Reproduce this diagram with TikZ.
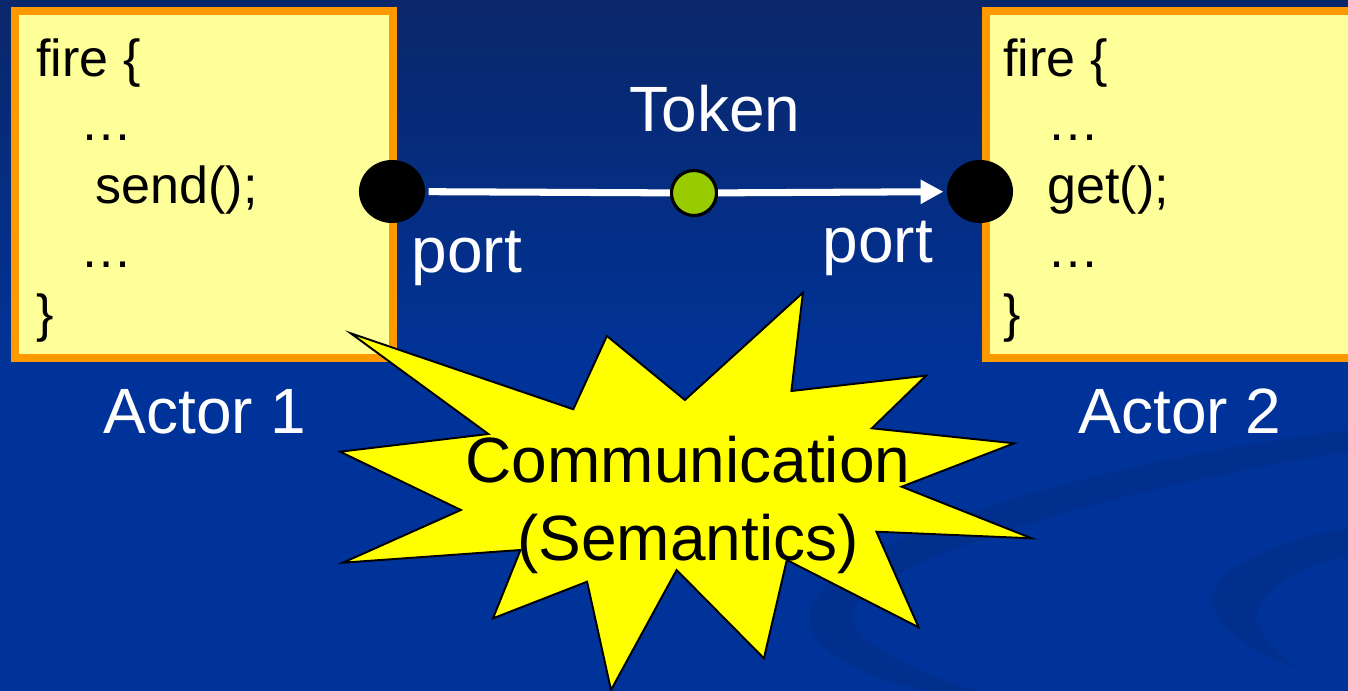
\documentclass[tikz,border=0pt]{standalone}
\usepackage{fontspec}
\setmainfont{Liberation Sans}
\usetikzlibrary{arrows.meta,shapes.geometric}
\definecolor{bgtop}{HTML}{0A276A}
\definecolor{bgblue}{HTML}{003399}
\definecolor{swoosh}{HTML}{002F8E}
\definecolor{boxfill}{HTML}{FFFF99}
\definecolor{boxline}{HTML}{FF9900}
\definecolor{tokengreen}{HTML}{99CC00}
\definecolor{burstyellow}{HTML}{FFFF00}
\tikzset{
  actorbox/.style={draw=boxline, fill=boxfill, line width=2.3pt, inner sep=0pt, minimum height=3.466cm},
  codeline/.style={anchor=base west, inner sep=0pt, font=\fontsize{14.8pt}{17pt}\selectfont},
  whitetext/.style={anchor=base west, text=white, inner sep=0pt, font=\fontsize{18.2pt}{22.2pt}\selectfont},
  portdot/.style={ellipse, fill=black, minimum width=0.66cm, minimum height=0.63cm, inner sep=0pt},
  tokendot/.style={circle, fill=tokengreen, draw=black, line width=0.9pt, minimum size=0.45cm, inner sep=0pt},
  starburst/.style={fill=burstyellow, draw=black, line width=0.55pt, line join=miter}
}

\begin{document}
\begin{tikzpicture}[x=0.01cm, y=-0.01cm, line width=2pt, >={Triangle[length=6.5pt,width=6.5pt]}]
  \useasboundingbox (0,0) rectangle (1348,691);
  \clip (0,0) rectangle (1348,691);
  \fill[bgblue] (0,0) rectangle (1348,691);
  \shade[top color=bgtop, bottom color=bgblue] (0,0) rectangle (1348,380);
  \fill[swoosh] (1348,430) .. controls (1100,460) and (830,540) .. (810,610)
    .. controls (800,645) and (860,680) .. (930,691) -- (975,691)
    .. controls (880,660) and (845,630) .. (853,610)
    .. controls (870,565) and (1100,490) .. (1348,452) -- cycle;
  \fill[swoosh] (1348,528) .. controls (1250,545) and (1205,580) .. (1213,605)
    .. controls (1222,635) and (1260,655) .. (1300,670)
    .. controls (1275,650) and (1250,628) .. (1258,610)
    .. controls (1268,585) and (1300,565) .. (1348,557) -- cycle;

  \node[actorbox, minimum width=3.775cm] (box1) at (203.8,184.5) {};
  \node[actorbox, minimum width=4cm, anchor=west] (box2) at (981.5,184.5) {};
  \foreach \x/\y/\t [count=\i] in {33/77/{fire \{}, 77/140.5/…, 92/204/{send();}, 77/267.5/…, 33/331/\}}
    \node[codeline] (sendline\i) at (\x,\y) {\t};
  \foreach \x/\y/\t [count=\i] in {1000/77/{fire \{}, 1044/140.5/…, 1044/204/{get();}, 1044/267.5/…, 1000/331/\}}
    \node[codeline] (getline\i) at (\x,\y) {\t};

  \node[portdot] (port1) at (392,191.5) {};
  \node[portdot] (port2) at (980,191.5) {};
  \node[tokendot] (token) at (694,193) {};
  \draw[white] (port1) -- (token);
  \draw[white, ->] (token) -- (port2);

  \node[whitetext] (tokenlabel) at (626,132) {Token};
  \node[whitetext] (portlabel1) at (408,272) {port};
  \node[whitetext] (portlabel2) at (819,263) {port};
  \node[whitetext] (actorlabel1) at (100,433) {Actor 1};
  \node[whitetext] (actorlabel2) at (1075,433) {Actor 2};

  \draw[starburst] (350.7,333.3) -- (573.3,409.3) -- (606.9,336) -- (684.9,400)
    -- (802.9,292.7) -- (791.4,391) -- (926,375.7) -- (871.8,428.3)
    -- (1014.1,443.3) -- (901.6,486.7) -- (1031.6,538.3) -- (876.4,531.7)
    -- (918.6,627.3) -- (786.8,560) -- (763.9,658.3) -- (676.6,570)
    -- (611,690) -- (587.1,581.7) -- (493,618.3) -- (520.5,550)
    -- (342.9,562.7) -- (460.9,510) -- (340.1,451.7) -- (488.4,434) -- cycle;
  \node[align=center, inner sep=0pt, font=\fontsize{18.2pt}{22.2pt}\selectfont] (semantics) at (688,505) {Communication\\(Semantics)};
\end{tikzpicture}
\end{document}
